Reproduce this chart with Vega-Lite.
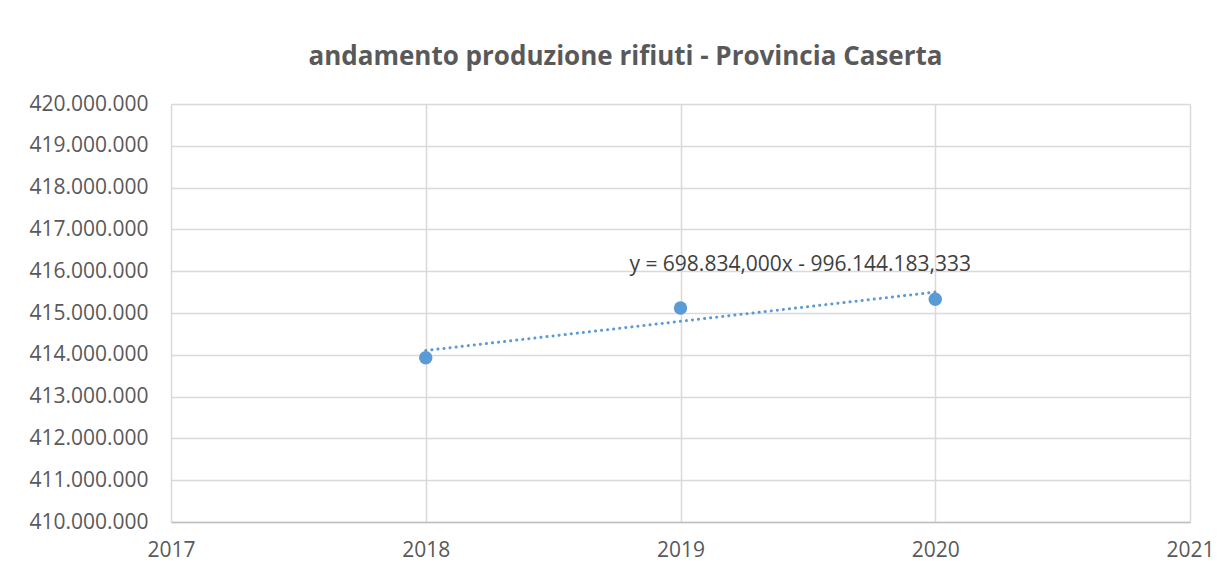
{
  "$schema": "https://vega.github.io/schema/vega-lite/v6.json",
  "width": 1019,
  "height": 418,
  "autosize": {"type": "none"},
  "padding": {"left": 171, "top": 104, "right": 41, "bottom": 56},
  "background": "white",
  "title": {
    "text": "andamento produzione rifiuti - Provincia Caserta",
    "font": "Open Sans",
    "fontSize": 26,
    "fontWeight": "bold",
    "color": "#595959",
    "anchor": "middle",
    "dx": -55,
    "offset": 23
  },
  "config": {
    "view": {"stroke": null},
    "axis": {
      "labelFont": "Open Sans",
      "labelFontSize": 21,
      "labelColor": "#595959",
      "gridColor": "#d9d9d9",
      "gridWidth": 1.5,
      "ticks": false,
      "title": null,
      "labelFlush": false
    }
  },
  "datasets": {
    "points": [
      {"anno": 2018, "tonnellate": 413930000},
      {"anno": 2019, "tonnellate": 415120000},
      {"anno": 2020, "tonnellate": 415327668}
    ],
    "trend": [
      {"anno": 2018, "tonnellate": 414102829},
      {"anno": 2020, "tonnellate": 415500497}
    ],
    "label": [
      {"anno": 2019.47, "tonnellate": 416150000, "testo": "y = 698.834,000x - 996.144.183,333"}
    ]
  },
  "layer": [
    {
      "data": {"name": "trend"},
      "mark": {"type": "line", "color": "#5b9bd5", "strokeWidth": 3, "strokeDash": [0.1, 6], "strokeCap": "round"},
      "encoding": {
        "x": {
          "field": "anno", "type": "quantitative",
          "scale": {"domain": [2017, 2021], "nice": false, "zero": false},
          "axis": {"values": [2017, 2018, 2019, 2020, 2021], "format": "d", "labelPadding": 17, "domainColor": "#bfbfbf", "domainWidth": 1.5}
        },
        "y": {
          "field": "tonnellate", "type": "quantitative",
          "scale": {"domain": [410000000, 420000000], "nice": false, "zero": false},
          "axis": {
            "values": [410000000, 411000000, 412000000, 413000000, 414000000, 415000000, 416000000, 417000000, 418000000, 419000000, 420000000],
            "labelExpr": "replace(format(datum.value, ',d'), /,/g, '.')",
            "labelPadding": 23,
            "domain": false
          }
        }
      }
    },
    {
      "data": {"name": "points"},
      "mark": {"type": "point", "filled": true, "color": "#5b9bd5", "size": 180, "opacity": 1},
      "encoding": {
        "x": {"field": "anno", "type": "quantitative"},
        "y": {"field": "tonnellate", "type": "quantitative"}
      }
    },
    {
      "data": {"name": "label"},
      "mark": {"type": "text", "font": "Open Sans", "fontSize": 21, "color": "#404040"},
      "encoding": {
        "x": {"field": "anno", "type": "quantitative"},
        "y": {"field": "tonnellate", "type": "quantitative"},
        "text": {"field": "testo"}
      }
    }
  ]
}
